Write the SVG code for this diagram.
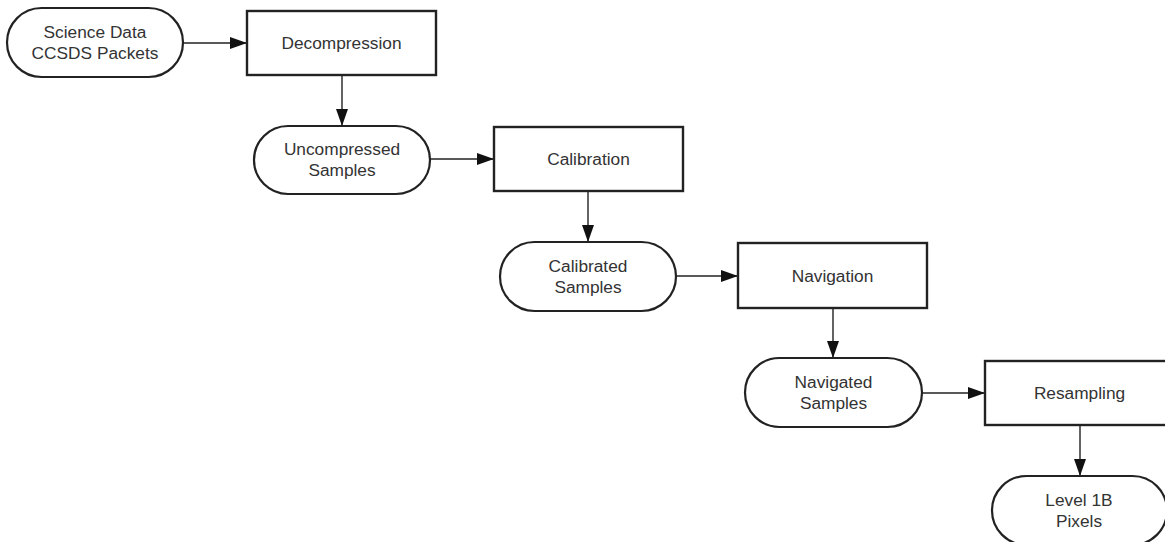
<svg xmlns="http://www.w3.org/2000/svg" width="1165" height="542" viewBox="0 0 1165 542">
<style>
.term{fill:#fff;stroke:#222;stroke-width:2.2}
.proc{fill:#fff;stroke:#222;stroke-width:2.4}
.lbl{font-family:"Liberation Sans",Arial,sans-serif;font-size:17.3px;fill:#333;text-anchor:middle}
.edge{stroke:#222;stroke-width:1.4;fill:none}
</style>
<defs>
<marker id="arr" markerUnits="userSpaceOnUse" markerWidth="18" markerHeight="13" refX="17" refY="6" orient="auto">
<path d="M0,0 L17,6 L0,12 z" fill="#111"/>
</marker>
</defs>
<rect width="1165" height="542" fill="#fff"/>
<g id="connectors">
<line class="edge" x1="183" y1="43" x2="247" y2="43" marker-end="url(#arr)"/>
<line class="edge" x1="342" y1="75" x2="342" y2="126" marker-end="url(#arr)"/>
<line class="edge" x1="430" y1="159" x2="494" y2="159" marker-end="url(#arr)"/>
<line class="edge" x1="588" y1="191" x2="588" y2="242" marker-end="url(#arr)"/>
<line class="edge" x1="676" y1="276" x2="738" y2="276" marker-end="url(#arr)"/>
<line class="edge" x1="833" y1="308" x2="833" y2="358" marker-end="url(#arr)"/>
<line class="edge" x1="922" y1="393" x2="985" y2="393" marker-end="url(#arr)"/>
<line class="edge" x1="1080" y1="425" x2="1080" y2="476" marker-end="url(#arr)"/>
</g>
<g id="science">
<rect class="term" x="7" y="8" width="176" height="69" rx="34.5"/>
<text class="lbl" x="95" y="38">Science Data</text>
<text class="lbl" x="95" y="59">CCSDS Packets</text>
</g>
<g id="decompression">
<rect class="proc" x="247" y="11" width="189" height="64"/>
<text class="lbl" x="341.5" y="49">Decompression</text>
</g>
<g id="uncompressed">
<rect class="term" x="254" y="126" width="176" height="68" rx="34"/>
<text class="lbl" x="342" y="155">Uncompressed</text>
<text class="lbl" x="342" y="176">Samples</text>
</g>
<g id="calibration">
<rect class="proc" x="494" y="127" width="189" height="64"/>
<text class="lbl" x="588.5" y="165">Calibration</text>
</g>
<g id="calibrated">
<rect class="term" x="500" y="242" width="176" height="69" rx="34.5"/>
<text class="lbl" x="588" y="272">Calibrated</text>
<text class="lbl" x="588" y="293">Samples</text>
</g>
<g id="navigation">
<rect class="proc" x="738" y="243" width="189" height="65"/>
<text class="lbl" x="832.5" y="281.5">Navigation</text>
</g>
<g id="navigated">
<rect class="term" x="745" y="358" width="177" height="69" rx="34.5"/>
<text class="lbl" x="833.5" y="388">Navigated</text>
<text class="lbl" x="833.5" y="409">Samples</text>
</g>
<g id="resampling">
<rect class="proc" x="985" y="361" width="189" height="64"/>
<text class="lbl" x="1079.5" y="399">Resampling</text>
</g>
<g id="level1b">
<rect class="term" x="992" y="476" width="175" height="69" rx="34.5"/>
<text class="lbl" x="1079" y="506">Level 1B</text>
<text class="lbl" x="1079" y="527">Pixels</text>
</g>
</svg>
